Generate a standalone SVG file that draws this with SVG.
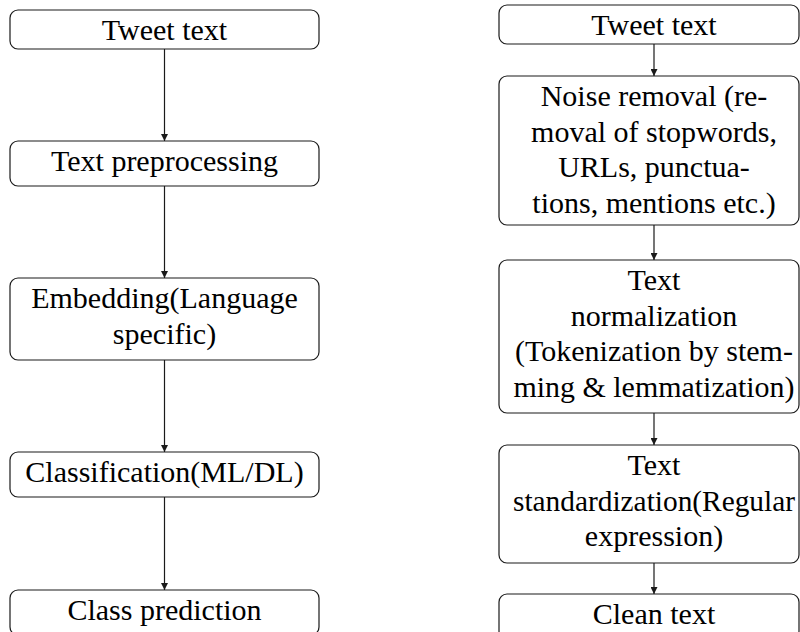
<svg xmlns="http://www.w3.org/2000/svg" width="800" height="632" viewBox="0 0 800 632">
  <style>
    .box { fill: #ffffff; stroke: #1a1a1a; stroke-width: 1.2; }
    .lbl { font-family: 'Liberation Serif', 'DejaVu Serif', serif; font-size: 30px; fill: #000000; text-anchor: middle; }
    .edge { stroke: #1a1a1a; stroke-width: 1.2; fill: none; marker-end: url(#arrow); }
  </style>
  <defs>
    <marker id="arrow" viewBox="0 0 10 10" refX="10" refY="5" markerWidth="8" markerHeight="7" markerUnits="userSpaceOnUse" orient="auto">
      <path d="M0,0 L10,5 L0,10 Z" fill="#1a1a1a"/>
    </marker>
  </defs>
  <rect width="800" height="632" fill="#ffffff"/>

  <!-- connectors -->
  <g id="connectors">
    <line class="edge" x1="164.5" y1="49" x2="164.5" y2="141"/>
    <line class="edge" x1="164.5" y1="186" x2="164.5" y2="278"/>
    <line class="edge" x1="164.5" y1="360" x2="164.5" y2="452"/>
    <line class="edge" x1="164.5" y1="497" x2="164.5" y2="590"/>
    <line class="edge" x1="654" y1="44" x2="654" y2="76"/>
    <line class="edge" x1="654" y1="225" x2="654" y2="260"/>
    <line class="edge" x1="654" y1="413" x2="654" y2="445"/>
    <line class="edge" x1="654" y1="563" x2="654" y2="594"/>
  </g>

  <!-- left pipeline -->
  <g id="l-tweet">
    <rect class="box" x="10" y="10" width="309" height="39" rx="8"/>
    <text class="lbl" x="164.5" y="39.5">Tweet text</text>
  </g>
  <g id="l-preprocess">
    <rect class="box" x="10" y="141" width="309" height="45" rx="8"/>
    <text class="lbl" x="164.5" y="171">Text preprocessing</text>
  </g>
  <g id="l-embedding">
    <rect class="box" x="10" y="278" width="309" height="82" rx="8"/>
    <text class="lbl" x="164.5" y="308">Embedding(Language</text>
    <text class="lbl" x="164.5" y="343.5">specific)</text>
  </g>
  <g id="l-classification">
    <rect class="box" x="10" y="452" width="309" height="45" rx="8"/>
    <text class="lbl" x="164.5" y="482">Classification(ML/DL)</text>
  </g>
  <g id="l-prediction">
    <rect class="box" x="10" y="590" width="309" height="45" rx="8"/>
    <text class="lbl" x="164.5" y="620">Class prediction</text>
  </g>

  <!-- right pipeline -->
  <g id="r-tweet">
    <rect class="box" x="499" y="5" width="300" height="39" rx="8"/>
    <text class="lbl" x="654" y="34.5">Tweet text</text>
  </g>
  <g id="r-noise">
    <rect class="box" x="499" y="76" width="300" height="149" rx="8"/>
    <text class="lbl" x="654" y="106">Noise removal (re-</text>
    <text class="lbl" x="654" y="141.5">moval of stopwords,</text>
    <text class="lbl" x="654" y="177">URLs, punctua-</text>
    <text class="lbl" x="654" y="212.5">tions, mentions etc.)</text>
  </g>
  <g id="r-normalization">
    <rect class="box" x="499" y="260" width="300" height="153" rx="8"/>
    <text class="lbl" x="654" y="290">Text</text>
    <text class="lbl" x="654" y="325.5">normalization</text>
    <text class="lbl" x="654" y="361">(Tokenization by stem-</text>
    <text class="lbl" x="654" y="396.5" textLength="281" lengthAdjust="spacingAndGlyphs">ming &amp; lemmatization)</text>
  </g>
  <g id="r-standardization">
    <rect class="box" x="499" y="445" width="300" height="118" rx="8"/>
    <text class="lbl" x="654" y="475">Text</text>
    <text class="lbl" x="654" y="510.5" textLength="282" lengthAdjust="spacingAndGlyphs">standardization(Regular</text>
    <text class="lbl" x="654" y="546">expression)</text>
  </g>
  <g id="r-clean">
    <rect class="box" x="499" y="594" width="300" height="45" rx="8"/>
    <text class="lbl" x="654" y="624">Clean text</text>
  </g>
</svg>
